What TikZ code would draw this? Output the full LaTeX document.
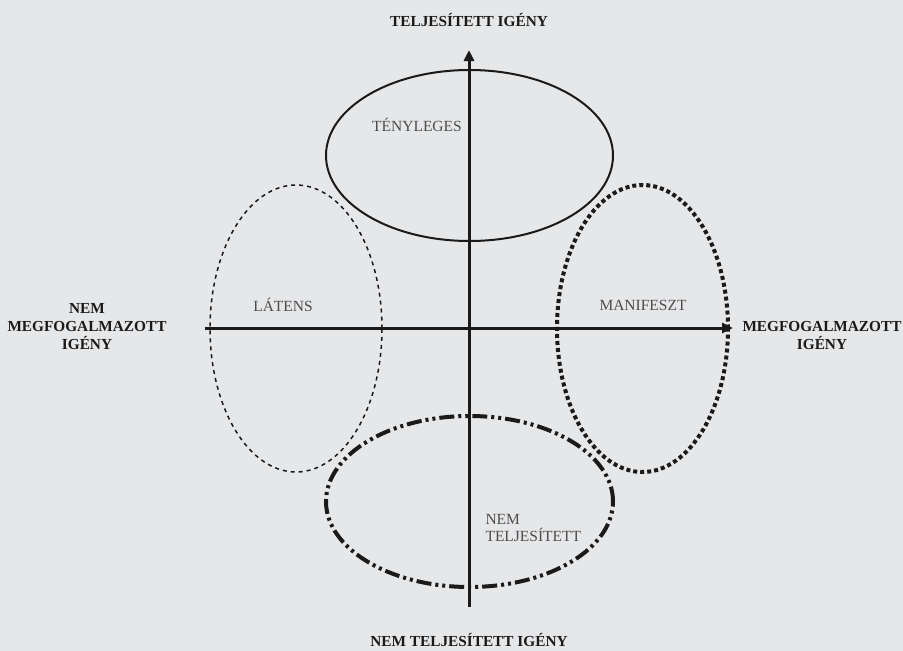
\documentclass[tikz,border=0pt]{standalone}
\usepackage{fontspec}
\setmainfont{Liberation Serif}
\usetikzlibrary{arrows.meta,shapes.geometric}
\definecolor{bg}{HTML}{E6E7E9}
\definecolor{ink}{HTML}{1A1A1A}
\definecolor{lbl}{HTML}{4D4D4D}
\tikzset{
  axis/.style={ink,line width=3pt,-{Triangle[length=11pt,width=10pt]}},
  oval/.style={ellipse,draw=ink,inner sep=0pt},
  axislabel/.style={ink,font=\fontsize{15.3}{18}\selectfont\bfseries,align=center,inner sep=1pt},
  ovallabel/.style={lbl,font=\fontsize{15.5}{17}\selectfont,align=left},
}
\begin{document}
\begin{tikzpicture}[x=1pt,y=-1pt]
  \fill[bg] (0,0) rectangle (903,651);
  \useasboundingbox (0,0) rectangle (903,651);
   \coordinate (Origin) at (469,328);
   \coordinate (Up) at (469,50);
   \coordinate (Down) at (469,607);
   \coordinate (Left) at (205,328);
   \coordinate (Right) at (733,328);
  % the four needs
  \node[oval,line width=2pt,minimum width=287pt,minimum height=171pt] (tenyleges) at (469.5,155.5) {};
  \node[oval,line width=1.5pt,dash pattern=on 4pt off 4pt,minimum width=172pt,minimum height=287pt] (latens) at (296,328.5) {};
  \node[oval,line width=4pt,dash pattern=on 4pt off 3pt,minimum width=171pt,minimum height=287pt] (manifeszt) at (642.5,328.5) {};
  \node[oval,line width=4pt,dash pattern=on 15pt off 4pt on 3pt off 4pt on 3pt off 4pt,minimum width=287pt,minimum height=171pt] (nemtelj) at (469.5,501.5) {};
  % axes
  \draw[axis] (Down) -- (Up);
  \draw[axis] (Left) -- (Right);
  \node[axislabel] (fent) at (469,20) {TELJESÍTETT IGÉNY};
  \node[axislabel] (lent) at (469,640) {NEM TELJESÍTETT IGÉNY};
  \node[axislabel] (bal) at (87,327) {NEM\\MEGFOGALMAZOTT\\IGÉNY};
  \node[axislabel] (jobb) at (822,336) {MEGFOGALMAZOTT\\IGÉNY};
  \node[ovallabel] at (417,125) {TÉNYLEGES};
  \node[ovallabel] at (283,305) {LÁTENS};
  \node[ovallabel] at (643,305) {MANIFESZT};
  \node[ovallabel,anchor=west] at (482,528) {NEM\\TELJESÍTETT};
 \end{tikzpicture}
\end{document}
